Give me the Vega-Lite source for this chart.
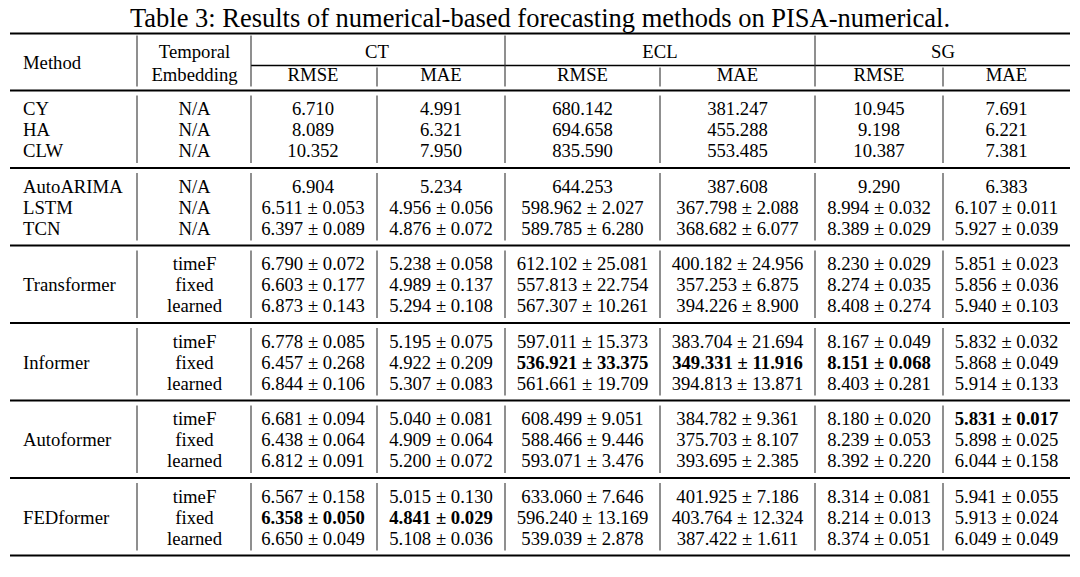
{
  "$schema": "https://vega.github.io/schema/vega-lite/v6.json",
  "width": 1080,
  "height": 547,
  "autosize": {"type": "none"},
  "padding": {"top": 30, "left": 0, "right": 0, "bottom": 0},
  "background": "white",
  "view": {"stroke": null},
  "title": {"text": "Table 3: Results of numerical-based forecasting methods on PISA-numerical.", "font": "Liberation Serif", "fontSize": 26.5, "fontWeight": "normal", "color": "#000", "anchor": "middle", "baseline": "alphabetic", "offset": 5, "dy": 28},
  "config": {"text": {"font": "Liberation Serif", "fontSize": 18.7, "color": "#000", "baseline": "middle"}},
  "datasets": {
    "hrules": [
      {"r": 1, "c": -0.5, "c2": 7.5, "k": "heavy"},
      {"r": 4, "c": 1.5, "c2": 7.5, "k": "thin"},
      {"r": 6, "c": -0.5, "c2": 7.5, "k": "mid"},
      {"r": 10, "c": -0.5, "c2": 7.5, "k": "mid"},
      {"r": 14, "c": -0.5, "c2": 7.5, "k": "mid"},
      {"r": 18, "c": -0.5, "c2": 7.5, "k": "mid"},
      {"r": 22, "c": -0.5, "c2": 7.5, "k": "mid"},
      {"r": 26, "c": -0.5, "c2": 7.5, "k": "mid"},
      {"r": 30, "c": -0.5, "c2": 7.5, "k": "heavy"}
    ],
    "vrules": [
      {"g": "h", "r": 1, "r2": 6, "c": [0.5, 1.5, 3.5, 5.5]},
      {"g": "h", "r": 4, "r2": 6, "c": [2.5, 4.5, 6.5]},
      {"g": "b", "r": 6, "r2": 10, "c": [0.5, 1.5, 2.5, 3.5, 4.5, 5.5, 6.5]},
      {"g": "b", "r": 10, "r2": 14, "c": [0.5, 1.5, 2.5, 3.5, 4.5, 5.5, 6.5]},
      {"g": "b", "r": 14, "r2": 18, "c": [0.5, 1.5, 2.5, 3.5, 4.5, 5.5, 6.5]},
      {"g": "b", "r": 18, "r2": 22, "c": [0.5, 1.5, 2.5, 3.5, 4.5, 5.5, 6.5]},
      {"g": "b", "r": 22, "r2": 26, "c": [0.5, 1.5, 2.5, 3.5, 4.5, 5.5, 6.5]},
      {"g": "b", "r": 26, "r2": 30, "c": [0.5, 1.5, 2.5, 3.5, 4.5, 5.5, 6.5]}
    ],
    "cells": [
      {"r": 3, "c": 0, "t": "Method"},
      {"r": 2, "c": 1, "t": "Temporal"},
      {"r": 5, "c": 1, "t": "Embedding"},
      {"r": 2, "c": 2.5, "t": "CT"},
      {"r": 2, "c": 4.5, "t": "ECL"},
      {"r": 2, "c": 6.5, "t": "SG"},
      {"r": 5, "c": 2, "t": "RMSE"},
      {"r": 5, "c": 3, "t": "MAE"},
      {"r": 5, "c": 4, "t": "RMSE"},
      {"r": 5, "c": 5, "t": "MAE"},
      {"r": 5, "c": 6, "t": "RMSE"},
      {"r": 5, "c": 7, "t": "MAE"},

      {"r": 7, "c": 0, "t": "CY"}, {"r": 7, "c": 1, "t": "N/A"}, {"r": 7, "c": 2, "t": "6.710"}, {"r": 7, "c": 3, "t": "4.991"}, {"r": 7, "c": 4, "t": "680.142"}, {"r": 7, "c": 5, "t": "381.247"}, {"r": 7, "c": 6, "t": "10.945"}, {"r": 7, "c": 7, "t": "7.691"},
      {"r": 8, "c": 0, "t": "HA"}, {"r": 8, "c": 1, "t": "N/A"}, {"r": 8, "c": 2, "t": "8.089"}, {"r": 8, "c": 3, "t": "6.321"}, {"r": 8, "c": 4, "t": "694.658"}, {"r": 8, "c": 5, "t": "455.288"}, {"r": 8, "c": 6, "t": "9.198"}, {"r": 8, "c": 7, "t": "6.221"},
      {"r": 9, "c": 0, "t": "CLW"}, {"r": 9, "c": 1, "t": "N/A"}, {"r": 9, "c": 2, "t": "10.352"}, {"r": 9, "c": 3, "t": "7.950"}, {"r": 9, "c": 4, "t": "835.590"}, {"r": 9, "c": 5, "t": "553.485"}, {"r": 9, "c": 6, "t": "10.387"}, {"r": 9, "c": 7, "t": "7.381"},

      {"r": 11, "c": 0, "t": "AutoARIMA"}, {"r": 11, "c": 1, "t": "N/A"}, {"r": 11, "c": 2, "t": "6.904"}, {"r": 11, "c": 3, "t": "5.234"}, {"r": 11, "c": 4, "t": "644.253"}, {"r": 11, "c": 5, "t": "387.608"}, {"r": 11, "c": 6, "t": "9.290"}, {"r": 11, "c": 7, "t": "6.383"},
      {"r": 12, "c": 0, "t": "LSTM"}, {"r": 12, "c": 1, "t": "N/A"}, {"r": 12, "c": 2, "t": "6.511 ± 0.053"}, {"r": 12, "c": 3, "t": "4.956 ± 0.056"}, {"r": 12, "c": 4, "t": "598.962 ± 2.027"}, {"r": 12, "c": 5, "t": "367.798 ± 2.088"}, {"r": 12, "c": 6, "t": "8.994 ± 0.032"}, {"r": 12, "c": 7, "t": "6.107 ± 0.011"},
      {"r": 13, "c": 0, "t": "TCN"}, {"r": 13, "c": 1, "t": "N/A"}, {"r": 13, "c": 2, "t": "6.397 ± 0.089"}, {"r": 13, "c": 3, "t": "4.876 ± 0.072"}, {"r": 13, "c": 4, "t": "589.785 ± 6.280"}, {"r": 13, "c": 5, "t": "368.682 ± 6.077"}, {"r": 13, "c": 6, "t": "8.389 ± 0.029"}, {"r": 13, "c": 7, "t": "5.927 ± 0.039"},

      {"r": 16, "c": 0, "t": "Transformer"},
      {"r": 15, "c": 1, "t": "timeF"}, {"r": 15, "c": 2, "t": "6.790 ± 0.072"}, {"r": 15, "c": 3, "t": "5.238 ± 0.058"}, {"r": 15, "c": 4, "t": "612.102 ± 25.081"}, {"r": 15, "c": 5, "t": "400.182 ± 24.956"}, {"r": 15, "c": 6, "t": "8.230 ± 0.029"}, {"r": 15, "c": 7, "t": "5.851 ± 0.023"},
      {"r": 16, "c": 1, "t": "fixed"}, {"r": 16, "c": 2, "t": "6.603 ± 0.177"}, {"r": 16, "c": 3, "t": "4.989 ± 0.137"}, {"r": 16, "c": 4, "t": "557.813 ± 22.754"}, {"r": 16, "c": 5, "t": "357.253 ± 6.875"}, {"r": 16, "c": 6, "t": "8.274 ± 0.035"}, {"r": 16, "c": 7, "t": "5.856 ± 0.036"},
      {"r": 17, "c": 1, "t": "learned"}, {"r": 17, "c": 2, "t": "6.873 ± 0.143"}, {"r": 17, "c": 3, "t": "5.294 ± 0.108"}, {"r": 17, "c": 4, "t": "567.307 ± 10.261"}, {"r": 17, "c": 5, "t": "394.226 ± 8.900"}, {"r": 17, "c": 6, "t": "8.408 ± 0.274"}, {"r": 17, "c": 7, "t": "5.940 ± 0.103"},

      {"r": 20, "c": 0, "t": "Informer"},
      {"r": 19, "c": 1, "t": "timeF"}, {"r": 19, "c": 2, "t": "6.778 ± 0.085"}, {"r": 19, "c": 3, "t": "5.195 ± 0.075"}, {"r": 19, "c": 4, "t": "597.011 ± 15.373"}, {"r": 19, "c": 5, "t": "383.704 ± 21.694"}, {"r": 19, "c": 6, "t": "8.167 ± 0.049"}, {"r": 19, "c": 7, "t": "5.832 ± 0.032"},
      {"r": 20, "c": 1, "t": "fixed"}, {"r": 20, "c": 2, "t": "6.457 ± 0.268"}, {"r": 20, "c": 3, "t": "4.922 ± 0.209"}, {"r": 20, "c": 4, "t": "536.921 ± 33.375", "b": 1}, {"r": 20, "c": 5, "t": "349.331 ± 11.916", "b": 1}, {"r": 20, "c": 6, "t": "8.151 ± 0.068", "b": 1}, {"r": 20, "c": 7, "t": "5.868 ± 0.049"},
      {"r": 21, "c": 1, "t": "learned"}, {"r": 21, "c": 2, "t": "6.844 ± 0.106"}, {"r": 21, "c": 3, "t": "5.307 ± 0.083"}, {"r": 21, "c": 4, "t": "561.661 ± 19.709"}, {"r": 21, "c": 5, "t": "394.813 ± 13.871"}, {"r": 21, "c": 6, "t": "8.403 ± 0.281"}, {"r": 21, "c": 7, "t": "5.914 ± 0.133"},

      {"r": 24, "c": 0, "t": "Autoformer"},
      {"r": 23, "c": 1, "t": "timeF"}, {"r": 23, "c": 2, "t": "6.681 ± 0.094"}, {"r": 23, "c": 3, "t": "5.040 ± 0.081"}, {"r": 23, "c": 4, "t": "608.499 ± 9.051"}, {"r": 23, "c": 5, "t": "384.782 ± 9.361"}, {"r": 23, "c": 6, "t": "8.180 ± 0.020"}, {"r": 23, "c": 7, "t": "5.831 ± 0.017", "b": 1},
      {"r": 24, "c": 1, "t": "fixed"}, {"r": 24, "c": 2, "t": "6.438 ± 0.064"}, {"r": 24, "c": 3, "t": "4.909 ± 0.064"}, {"r": 24, "c": 4, "t": "588.466 ± 9.446"}, {"r": 24, "c": 5, "t": "375.703 ± 8.107"}, {"r": 24, "c": 6, "t": "8.239 ± 0.053"}, {"r": 24, "c": 7, "t": "5.898 ± 0.025"},
      {"r": 25, "c": 1, "t": "learned"}, {"r": 25, "c": 2, "t": "6.812 ± 0.091"}, {"r": 25, "c": 3, "t": "5.200 ± 0.072"}, {"r": 25, "c": 4, "t": "593.071 ± 3.476"}, {"r": 25, "c": 5, "t": "393.695 ± 2.385"}, {"r": 25, "c": 6, "t": "8.392 ± 0.220"}, {"r": 25, "c": 7, "t": "6.044 ± 0.158"},

      {"r": 28, "c": 0, "t": "FEDformer"},
      {"r": 27, "c": 1, "t": "timeF"}, {"r": 27, "c": 2, "t": "6.567 ± 0.158"}, {"r": 27, "c": 3, "t": "5.015 ± 0.130"}, {"r": 27, "c": 4, "t": "633.060 ± 7.646"}, {"r": 27, "c": 5, "t": "401.925 ± 7.186"}, {"r": 27, "c": 6, "t": "8.314 ± 0.081"}, {"r": 27, "c": 7, "t": "5.941 ± 0.055"},
      {"r": 28, "c": 1, "t": "fixed"}, {"r": 28, "c": 2, "t": "6.358 ± 0.050", "b": 1}, {"r": 28, "c": 3, "t": "4.841 ± 0.029", "b": 1}, {"r": 28, "c": 4, "t": "596.240 ± 13.169"}, {"r": 28, "c": 5, "t": "403.764 ± 12.324"}, {"r": 28, "c": 6, "t": "8.214 ± 0.013"}, {"r": 28, "c": 7, "t": "5.913 ± 0.024"},
      {"r": 29, "c": 1, "t": "learned"}, {"r": 29, "c": 2, "t": "6.650 ± 0.049"}, {"r": 29, "c": 3, "t": "5.108 ± 0.036"}, {"r": 29, "c": 4, "t": "539.039 ± 2.878"}, {"r": 29, "c": 5, "t": "387.422 ± 1.611"}, {"r": 29, "c": 6, "t": "8.374 ± 0.051"}, {"r": 29, "c": 7, "t": "6.049 ± 0.049"}
    ]
  },
  "encoding": {
    "x": {"field": "c", "type": "quantitative", "axis": null,
      "scale": {"zero": false, "nice": false,
        "domain": [-0.5, 0, 0.5, 1, 1.5, 2, 2.5, 3, 3.5, 4, 4.5, 5, 5.5, 6, 6.5, 7, 7.5],
        "range": [10, 23, 137, 194.5, 251, 313, 377, 441, 505, 582.5, 660, 737.5, 815, 879, 943, 1006.5, 1070]}},
    "y": {"field": "r", "type": "quantitative", "axis": null,
      "scale": {"zero": false, "nice": false,
        "domain": [1, 2, 3, 4, 5, 6, 7, 8, 9, 10, 11, 12, 13, 14, 15, 16, 17, 18, 19, 20, 21, 22, 23, 24, 25, 26, 27, 28, 29, 30],
        "range": [3.5, 22, 33, 35.5, 44.5, 60.5, 79, 100, 121, 138, 156.5, 177.5, 198.5, 215.5, 234, 255, 276, 293, 311.5, 332.5, 353.5, 370.5, 389, 410, 431, 448, 466.5, 487.5, 508.5, 525.5]}}
  },
  "layer": [
    {
      "data": {"name": "hrules"},
      "mark": {"type": "rule", "color": "#000"},
      "encoding": {
        "x2": {"field": "c2"},
        "strokeWidth": {"field": "k", "type": "nominal", "legend": null, "scale": {"domain": ["heavy", "mid", "thin"], "range": [2.2, 1.5, 1]}}
      }
    },
    {
      "data": {"name": "vrules"},
      "transform": [{"filter": "datum.g == 'h'"}, {"flatten": ["c"]}],
      "mark": {"type": "rule", "color": "#333", "strokeWidth": 1.1, "yOffset": 2, "y2Offset": -4},
      "encoding": {"y2": {"field": "r2"}}
    },
    {
      "data": {"name": "vrules"},
      "transform": [{"filter": "datum.g == 'b'"}, {"flatten": ["c"]}],
      "mark": {"type": "rule", "color": "#333", "strokeWidth": 1.1, "yOffset": 5, "y2Offset": -5},
      "encoding": {"y2": {"field": "r2"}}
    },
    {
      "data": {"name": "cells"},
      "transform": [{"filter": "datum.c == 0"}],
      "mark": {"type": "text", "align": "left"},
      "encoding": {"text": {"field": "t"}}
    },
    {
      "data": {"name": "cells"},
      "transform": [{"filter": "datum.c > 0 && !datum.b"}],
      "mark": {"type": "text", "align": "center"},
      "encoding": {"text": {"field": "t"}}
    },
    {
      "data": {"name": "cells"},
      "transform": [{"filter": "datum.b == 1"}],
      "mark": {"type": "text", "align": "center", "fontWeight": "bold"},
      "encoding": {"text": {"field": "t"}}
    }
  ]
}
